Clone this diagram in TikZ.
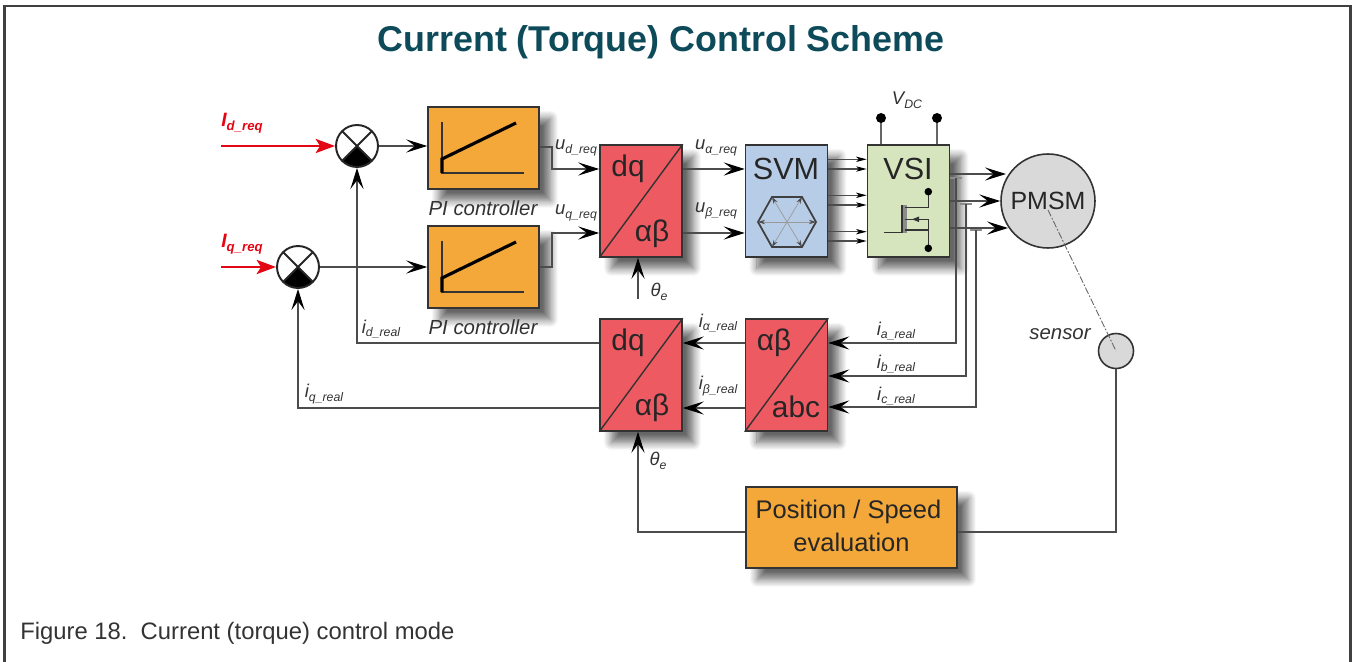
\documentclass[tikz,border=0pt]{standalone}
\usepackage{fontspec}
\setmainfont{Liberation Sans}
\usepackage{tikz}
\usetikzlibrary{arrows.meta,shapes,positioning,calc,shadows.blur}
\definecolor{piorange}{HTML}{F4A83A}
\definecolor{transred}{HTML}{EE5A62}
\definecolor{svmblue}{HTML}{B7CCE6}
\definecolor{vsigreen}{HTML}{D7E5BE}
\definecolor{motorgray}{HTML}{D9D9D9}
\definecolor{titleteal}{HTML}{0E4B5A}
\definecolor{refred}{HTML}{E30613}
\definecolor{inkgray}{HTML}{333333}
\newcommand{\siglabel}[2]{{\color{inkgray}\fontsize{10.5pt}{11pt}\selectfont\itshape #1\raisebox{-2pt}{\fontsize{7pt}{8pt}\selectfont #2}}}
\newcommand{\reqlabel}[2]{{\color{refred}\fontsize{11pt}{12pt}\selectfont\bfseries\itshape #1\raisebox{-2pt}{\fontsize{7.5pt}{8pt}\selectfont #2}}}
\tikzset{
  blockbox/.style={draw=inkgray, line width=0.9pt, rectangle, inner sep=0pt, text=black!85,
    blur shadow={shadow xshift=6.5pt, shadow yshift=-6.5pt, shadow blur radius=4.5pt, shadow blur steps=10, shadow opacity=60}},
  narrowbox/.style={blockbox, minimum width=1.64cm, minimum height=2.24cm},
  sumnode/.style={draw=black!85, line width=1.1pt, circle, fill=white, minimum size=0.84cm, inner sep=0pt,
    path picture={
      \fill[black] (path picture bounding box.center) -- (path picture bounding box.south west)
        -- (path picture bounding box.south east) -- cycle;
      \draw[line width=1.2pt, black!85] (path picture bounding box.south west) -- (path picture bounding box.north east);
      \draw[line width=1.2pt, black!85] (path picture bounding box.south east) -- (path picture bounding box.north west);
    }},
  conn/.style={draw=black!70, line width=0.6pt, -{Stealth[length=12pt, width=7.5pt, inset=5pt, black]}},
  connplain/.style={draw=black!70, line width=0.6pt},
  connsmall/.style={draw=black!70, line width=0.6pt, -{Stealth[length=6pt, width=3pt, inset=1.5pt, black]}},
  refarrow/.style={draw=refred, line width=1.6pt, -{Stealth[length=11pt, width=8pt, inset=2.5pt, refred]}},
  tapbar/.style={draw=black!45, line width=1.2pt},
  blocktext/.style={inner sep=0pt, font=\fontsize{17pt}{19pt}\selectfont, text=black!85},
  sigtext/.style={inner sep=0pt},
  captext/.style={inner sep=0pt, font=\fontsize{11.6pt}{13pt}\selectfont\itshape, text=inkgray}
}

\begin{document}
\begin{tikzpicture}[x=0.02cm, y=-0.02cm]
    \useasboundingbox (0,0) rectangle (1352,662);

    % Page frame, open at the bottom
    \draw[line width=1.2pt, black!75] (4.5,662) -- (4.5,6) -- (1350.5,6) -- (1350.5,662);

    % Title and caption
    \node[inner sep=0pt, font=\fontsize{20.4pt}{22pt}\selectfont\bfseries, text=titleteal] (title) at (661,42) {Current (Torque) Control Scheme};
    \node[inner sep=0pt, anchor=base west, font=\fontsize{13.55pt}{15pt}\selectfont, text=black!80] (caption) at (20,639) {Figure 18.\ \ Current (torque) control mode};

    % Summing points
    \node[sumnode] (sumA) at (357,146) {};
    \node[sumnode] (sumB) at (298,267) {};

    % PI controllers
    \node[blockbox, fill=piorange, minimum width=2.22cm, minimum height=1.64cm] (PIa) at (483.5,148) {};
    \node[blockbox, fill=piorange, minimum width=2.22cm, minimum height=1.64cm] (PIb) at (483.5,267) {};
    \foreach \pinode in {PIa,PIb}{
      \begin{scope}[shift={(\pinode.center)}]
        \draw[line width=0.9pt, black!80] (-41.5,-26) -- (-41.5,25) -- (40.5,25);
        \draw[line width=1.8pt, black] (-41.5,25) -- (-41.5,11) -- (32.5,-25);
      \end{scope}
    }
    \node[captext] (PIaname) at (483,208) {PI controller};
    \node[captext] (PIbname) at (483,327) {PI controller};

    % Transformations
    \node[narrowbox, fill=transred] (dqA) at (641,201) {};
    \node[narrowbox, fill=transred] (dqB) at (641,375) {};
    \node[narrowbox, fill=transred] (ab) at (786.5,375) {};
    \foreach \boxname in {dqA,dqB,ab}
      \draw[line width=0.8pt, black!80] (\boxname.south west) -- (\boxname.north east);
    \node[blocktext] (dqAtop) at (628,169) {dq};
    \node[blocktext] (dqAbot) at (652,234) {αβ};
    \node[blocktext] (dqBtop) at (628,343) {dq};
    \node[blocktext] (dqBbot) at (652,408) {αβ};
    \node[blocktext] (abtop) at (774,343) {αβ};
    \node[blocktext] (abbot) at (796,407) {abc};

    % SVM with its hexagon
    \node[narrowbox, fill=svmblue] (SVM) at (786.5,201) {};
    \node[inner sep=0pt, font=\fontsize{17.4pt}{19pt}\selectfont, text=black!85] (SVMname) at (786,169) {SVM};
    \begin{scope}[shift={(787,222)}]
      \foreach \hx/\hy in {-29/0,-15/-25,15/-25,29/0,15/25,-15/25}
        \draw[line width=0.4pt, black!40, -{Stealth[length=4pt, width=2.5pt, black!70]}] (0,0) -- (\hx,\hy);
      \draw[line width=1pt, black!75] (-29,0) -- (-15,-25) -- (15,-25) -- (29,0) -- (15,25) -- (-15,25) -- cycle;
    \end{scope}

    % VSI with its switch
    \node[narrowbox, fill=vsigreen] (VSI) at (908.5,201) {};
    \node[inner sep=0pt, font=\fontsize{17.4pt}{19pt}\selectfont, text=black!85] (VSIname) at (908,169) {VSI};
    \draw[line width=0.9pt, inkgray] (884,232.7) -- (901.7,232.7) -- (901.7,205);
    \draw[line width=2pt, black!45] (905,205) -- (905,233);
    \draw[line width=0.9pt, inkgray] (905,207.3) -- (928.3,207.3) -- (928.3,191.7);
    \draw[line width=0.9pt, inkgray] (905,230) -- (928.3,230);
    \draw[line width=0.9pt, inkgray] (928.3,248.3) -- (928.3,219.3) -- (905,219.3);
    \fill[inkgray] (912,219.3) -- (919,216.5) -- (919,222.1) -- cycle;
    \fill[black] (928.3,191.7) circle (3.8);
    \fill[black] (928.3,248.3) circle (3.8);

    % Position and speed block
    \node[blockbox, fill=piorange, minimum width=4.22cm, minimum height=1.62cm] (pos) at (851.5,527.5) {};
    \node[inner sep=0pt, font=\fontsize{14.5pt}{18pt}\selectfont, text=black!85] (posnameA) at (848.5,512) {Position / Speed};
    \node[inner sep=0pt, font=\fontsize{14.5pt}{18pt}\selectfont, text=black!85] (posnameB) at (851.5,542) {evaluation};

    % Motor and sensor
    \node[draw=black!80, line width=0.9pt, circle, fill=motorgray, minimum size=1.88cm, inner sep=0pt, font=\fontsize{14.2pt}{16pt}\selectfont, text=black!85] (PMSM) at (1048,201) {PMSM};
    \node[draw=black!80, line width=0.9pt, circle, fill=motorgray, minimum size=0.7cm, inner sep=0pt] (sensor) at (1116,351) {};
    \node[captext] (sensorname) at (1060,334) {sensor};
    \coordinate (shaft) at (1048,210);
    \draw[line width=0.5pt, black!60, dash pattern=on 4pt off 1pt on 1pt off 1pt] (shaft) -- (sensor.center);

    % DC link
    \coordinate (dcA) at (881,118);
    \coordinate (dcB) at (937,118);
    \draw[line width=0.9pt, black!60] (dcA) -- (VSI.north -| dcA);
    \draw[line width=0.9pt, black!60] (dcB) -- (VSI.north -| dcB);
    \fill[black] (dcA) circle (5);
    \fill[black] (dcB) circle (5);
    \node[sigtext] (vdc) at (907,100) {\siglabel{V}{DC}};

    % Request inputs
    \coordinate (reqA) at (221,146);
    \coordinate (reqB) at (221,267);
    \draw[refarrow] (reqA) -- (sumA.west);
    \draw[refarrow] (reqB) -- (sumB.west);
    \node[sigtext] (reqAname) at (242,123) {\reqlabel{I}{d\_req}};
    \node[sigtext] (reqBname) at (242,244) {\reqlabel{I}{q\_req}};

    % Forward path
    \draw[conn] (sumA.east) -- (PIa.west |- sumA.east);
    \draw[conn] (sumB.east) -- (PIb.west);
    \draw[conn] (PIa.east |- 0,147) -- (552,147) |- (dqA.west |- 0,169);
    \draw[conn] (PIb.east) -- (552,267) |- (dqA.west |- 0,233);
    \draw[conn] (dqA.east |- 0,169) -- (SVM.west |- 0,169);
    \draw[conn] (dqA.east |- 0,233) -- (SVM.west |- 0,233);
    \foreach \yy in {159.3,169,195.3,205,231.7,241}
      \draw[connsmall] (SVM.east |- 0,\yy) -- (VSI.west |- 0,\yy);
    \draw[conn] (VSI.east |- 0,174) -- (1006,174);
    \draw[conn] (VSI.east |- 0,201) -- (PMSM.west);
    \draw[conn] (VSI.east |- 0,228) -- (1008,228);
    \node[sigtext] (udreq) at (576,148) {\siglabel{u}{d\_req}};
    \node[sigtext] (uqreq) at (576,213) {\siglabel{u}{q\_req}};
    \node[sigtext] (uareq) at (716,148) {\siglabel{u}{α\_req}};
    \node[sigtext] (ubreq) at (716,211) {\siglabel{u}{β\_req}};

    % Current feedback
    \foreach \tapname/\xx/\yy/\yi in {tapA/956/178/343,tapB/966/204/376,tapC/976/230/407}{
      \coordinate (\tapname) at (\xx,\yy);
      \draw[tapbar] ([xshift=-3.2pt]\tapname) -- ([xshift=3.2pt]\tapname);
      \draw[conn] (\tapname) |- (ab.east |- 0,\yi);
    }
    \draw[conn] (ab.west |- 0,343) -- (dqB.east |- 0,343);
    \draw[conn] (ab.west |- 0,408) -- (dqB.east |- 0,408);
    \draw[conn] (dqB.west |- 0,343) -| (sumA.south);
    \draw[conn] (dqB.west |- 0,408) -| (sumB.south);
    \node[sigtext] (iareal) at (896,331) {\siglabel{i}{a\_real}};
    \node[sigtext] (ibreal) at (896,364) {\siglabel{i}{b\_real}};
    \node[sigtext] (icreal) at (896,396) {\siglabel{i}{c\_real}};
    \node[sigtext] (ialreal) at (718,323) {\siglabel{i}{α\_real}};
    \node[sigtext] (ibereal) at (718,386) {\siglabel{i}{β\_real}};
    \node[sigtext] (idreal) at (381,329) {\siglabel{i}{d\_real}};
    \node[sigtext] (iqreal) at (324,394) {\siglabel{i}{q\_real}};

    % Angle and position feedback
    \coordinate (thetaIn) at (638,299);
    \draw[conn] (thetaIn) -- (dqA.south -| thetaIn);
    \draw[conn] (pos.west |- 0,532) -| (dqB.south -| thetaIn);
    \draw[connplain] (pos.east |- 0,532) -| (sensor.south);
    \node[sigtext] (thetaA) at (659,292) {\siglabel{θ}{e}};
    \node[sigtext] (thetaB) at (658,461) {\siglabel{θ}{e}};
\end{tikzpicture}
\end{document}
